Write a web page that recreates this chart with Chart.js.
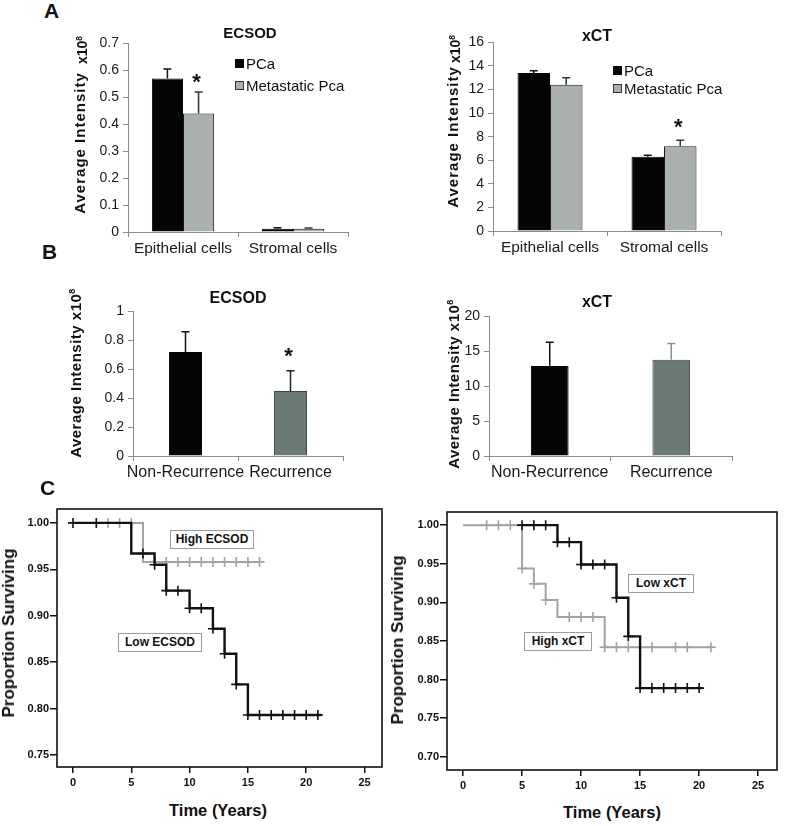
<!DOCTYPE html>
<html>
<head>
<meta charset="utf-8">
<script src="https://cdn.jsdelivr.net/npm/chart.js@4.4.0/dist/chart.umd.min.js"></script>
<style>
  body { margin: 0; background: #fff; }
  #fig { position: relative; width: 792px; height: 826px; overflow: hidden; background: #fff;
         font-family: 'Liberation Sans', Arial, sans-serif; color: #111; }
  canvas { position: absolute; }
  .t { position: absolute; white-space: nowrap; transform: translate(-50%, -50%); }
  .r { position: absolute; white-space: nowrap; transform: translate(-50%, -50%) rotate(-90deg); font-weight: bold; }
  .letter { position: absolute; font-weight: bold; font-size: 21px; }
  .ttl { font-weight: bold; font-size: 16px; }
  .leg { position: absolute; font-size: 15px; line-height: 15px; }
  .sq { display: inline-block; width: 9px; height: 9px; margin-right: 2px; vertical-align: 1px; box-sizing: border-box; }
  .tag { position: absolute; border: 1.5px solid #9c9c9c; background: #fff; font-weight: bold; font-size: 12px;
         text-align: center; box-sizing: border-box; }
  sup { font-size: 0.6em; }
</style>
</head>
<body>
<div id="fig">
  <canvas id="aEcsod"></canvas>
  <canvas id="aXct"></canvas>
  <canvas id="bEcsod"></canvas>
  <canvas id="bXct"></canvas>
  <canvas id="cEcsod"></canvas>
  <canvas id="cXct"></canvas>

  <div class="letter" style="left:44px;top:-1px">A</div>
  <div class="letter" style="left:42px;top:240px">B</div>
  <div class="letter" style="left:40px;top:476px">C</div>

  <div class="t ttl" style="left:250px;top:32px;font-size:15px">ECSOD</div>
  <div class="t ttl" style="left:597px;top:36px">xCT</div>
  <div class="t ttl" style="left:238px;top:298px">ECSOD</div>
  <div class="t ttl" style="left:597px;top:302px">xCT</div>

  <div class="r" style="left:79px;top:143px;font-size:15px;letter-spacing:1px">Average Intensity</div>
  <div class="r" style="left:82px;top:50px;font-size:14px">x10<sup>8</sup></div>
  <div class="r" style="left:452px;top:137px;font-size:15px;letter-spacing:1px">Average Intensity</div>
  <div class="r" style="left:455px;top:49px;font-size:14px">x10<sup>8</sup></div>
  <div class="r" style="left:75px;top:373px;font-size:15px;letter-spacing:0.5px">Average Intensity x10<sup>8</sup></div>
  <div class="r" style="left:453px;top:384px;font-size:15px;letter-spacing:0.5px">Average Intensity x10<sup>8</sup></div>

  <div class="leg" style="left:235px;top:56px"><span class="sq" style="background:#050505"></span>PCa</div>
  <div class="leg" style="left:235px;top:78px"><span class="sq" style="background:#a9b0ad;border:1px solid #333"></span>Metastatic Pca</div>
  <div class="leg" style="left:613px;top:63px"><span class="sq" style="background:#050505"></span>PCa</div>
  <div class="leg" style="left:613px;top:81px"><span class="sq" style="background:#a9b0ad;border:1px solid #333"></span>Metastatic Pca</div>

  <div class="r" style="left:9px;top:633px;font-size:17px">Proportion Surviving</div>
  <div class="t ttl" style="left:218px;top:810px;font-size:16.5px">Time (Years)</div>
  <div class="r" style="left:398px;top:640px;font-size:17px">Proportion Surviving</div>
  <div class="t ttl" style="left:612px;top:812px;font-size:16.5px">Time (Years)</div>

  <div class="tag" style="left:170px;top:530px;width:84px;height:19px;line-height:16px">High ECSOD</div>
  <div class="tag" style="left:118px;top:633px;width:84px;height:19px;line-height:16px">Low ECSOD</div>
  <div class="tag" style="left:628px;top:574px;width:66px;height:19px;line-height:16px">Low xCT</div>
  <div class="tag" style="left:524px;top:632px;width:68px;height:19px;line-height:16px">High xCT</div>
</div>

<script>
// ---- data ----
// A: cell types, PCa vs metastatic
const cellTypes = ['Epithelial cells', 'Stromal cells'];
const ecsodA_PCa = [0.57, 0.012];
const ecsodA_PCaErr = [0.035, 0.004];
const ecsodA_Met = [0.44, 0.012];
const ecsodA_MetErr = [0.08, 0.003];
const xctA_PCa = [13.4, 6.3];
const xctA_PCaErr = [0.2, 0.12];
const xctA_Met = [12.4, 7.2];
const xctA_MetErr = [0.6, 0.5];

// B: recurrence groups
const recurGroups = ['Non-Recurrence', 'Recurrence'];
const ecsodB = [0.72, 0.45];
const ecsodBErr = [0.14, 0.14];
const xctB = [12.9, 13.8];
const xctBErr = [3.4, 2.3];

// C: Kaplan-Meier steps (time in years, proportion surviving) and censor times
const lowEcsodT = [0, 5, 7, 8, 10, 12, 13, 14, 15, 21.3];
const lowEcsodS = [1, 0.967, 0.955, 0.927, 0.908, 0.886, 0.859, 0.826, 0.793, 0.793];
const lowEcsodCens = [0, 2, 6, 7, 8, 9, 10, 11, 12, 13, 14, 15, 16, 17, 18, 19, 20, 21];
const highEcsodT = [0, 6, 16];
const highEcsodS = [1, 0.958, 0.958];
const highEcsodCens = [3, 4, 5, 7, 8, 9, 10, 11, 12, 13, 14, 15, 16];

const lowXctT = [5, 8, 10, 13, 14, 15, 20.3];
const lowXctS = [1, 0.978, 0.949, 0.906, 0.856, 0.789, 0.789];
const lowXctCens = [5, 6, 7, 8, 9, 10, 11, 12, 13, 14, 15, 16, 17, 18, 19, 20];
const highXctT = [0, 5, 6, 7, 8, 12, 21.2];
const highXctS = [1, 0.944, 0.924, 0.903, 0.881, 0.842, 0.842];
const highXctCens = [2, 3, 4, 5, 6, 7, 9, 10, 11, 12, 13, 14, 16, 18, 19, 21];

// ---- helpers ----
const FONT = "'Liberation Sans', Arial, sans-serif";
Chart.defaults.font.family = FONT;

// put the canvas so the plot area lands on the given box
function place(id, area, pad) {
  const c = document.getElementById(id);
  c.width = area.r - area.l + pad.yw + pad.pr;
  c.height = area.b - area.t + pad.pt + pad.xh;
  c.style.left = (area.l - pad.yw) + 'px';
  c.style.top = (area.t - pad.pt) + 'px';
  return c;
}

// upper error bars + significance star
const errorBars = {
  id: 'errorBars',
  afterDatasetsDraw(chart) {
    const ctx = chart.ctx, y = chart.scales.y;
    chart.data.datasets.forEach((ds, i) => {
      if (!ds.errors) return;
      chart.getDatasetMeta(i).data.forEach((bar, j) => {
        const top = y.getPixelForValue(ds.data[j] + ds.errors[j]);
        const col = Array.isArray(ds.errColor) ? ds.errColor[j] : ds.errColor;
        ctx.save();
        ctx.strokeStyle = col;
        ctx.lineWidth = 1.5;
        ctx.beginPath();
        ctx.moveTo(bar.x, bar.y);
        ctx.lineTo(bar.x, top);
        ctx.moveTo(bar.x - 4, top);
        ctx.lineTo(bar.x + 4, top);
        ctx.stroke();
        if (ds.stars && ds.stars[j]) {
          ctx.fillStyle = '#111';
          ctx.font = 'bold 22px ' + FONT;
          ctx.textAlign = 'center';
          ctx.textBaseline = 'alphabetic';
          ctx.fillText('*', bar.x - 2, top - ds.starGap);
        }
        ctx.restore();
      });
    });
  }
};

// black box around the survival plots
const frame = {
  id: 'frame',
  afterDatasetsDraw(chart) {
    const a = chart.chartArea, ctx = chart.ctx;
    ctx.save();
    ctx.strokeStyle = '#111';
    ctx.lineWidth = 1.6;
    ctx.strokeRect(a.left, a.top, a.right - a.left, a.bottom - a.top);
    ctx.restore();
  }
};

function barChart(id, area, labels, datasets, yMax, yStep, labelSize) {
  const pad = { yw: 42, xh: 32, pt: 12, pr: 12 };
  const axisCol = '#8c8c8c';
  return new Chart(place(id, area, pad), {
    type: 'bar',
    data: { labels: labels, datasets: datasets },
    options: {
      responsive: false,
      animation: false,
      layout: { padding: { top: pad.pt, right: pad.pr, left: 0, bottom: 0 } },
      plugins: { legend: { display: false }, tooltip: { enabled: false } },
      scales: {
        x: {
          offset: true,
          grid: { offset: true, drawOnChartArea: false, tickLength: 5, color: axisCol },
          border: { color: axisCol },
          ticks: { color: '#1a1a1a', font: { size: labelSize }, padding: 2, maxRotation: 0, autoSkip: false },
          afterFit: s => { s.height = pad.xh; }
        },
        y: {
          min: 0, max: yMax,
          grid: { drawOnChartArea: false, tickLength: 5, color: axisCol },
          border: { color: axisCol },
          ticks: { stepSize: yStep, color: '#1a1a1a', font: { size: 14 }, padding: 4,
                   callback: v => String(Number(v.toFixed(3))) },
          afterFit: s => { s.width = pad.yw; }
        }
      }
    },
    plugins: [errorBars]
  });
}

function survAt(T, S, t) {
  let v = S[0];
  for (let i = 0; i < T.length; i++) if (T[i] <= t) v = S[i];
  return v;
}

function curve(T, S, color, width) {
  return {
    type: 'line', data: T.map((t, i) => ({ x: t, y: S[i] })),
    stepped: true, borderColor: color, borderWidth: width, pointRadius: 0, fill: false
  };
}

function censors(T, S, C, color) {
  return {
    type: 'scatter', data: C.map(t => ({ x: t, y: survAt(T, S, t) })),
    showLine: false, pointStyle: 'cross', pointRadius: 5,
    pointBorderColor: color, pointBorderWidth: 1.6
  };
}

function kmChart(id, area, datasets, xr, yr) {
  const pad = { yw: 50, xh: 26, pt: 10, pr: 10 };
  const tickFont = { size: 11, weight: 'bold' };
  return new Chart(place(id, area, pad), {
    type: 'scatter',
    data: { datasets: datasets },
    options: {
      responsive: false,
      animation: false,
      layout: { padding: { top: pad.pt, right: pad.pr, left: 0, bottom: 0 } },
      plugins: { legend: { display: false }, tooltip: { enabled: false } },
      scales: {
        x: {
          type: 'linear', min: xr[0], max: xr[1],
          grid: { drawOnChartArea: false, tickLength: 6, color: '#111', lineWidth: 1.5 },
          border: { display: false },
          ticks: { stepSize: 5, includeBounds: false, color: '#111', font: tickFont, padding: 3 },
          afterFit: s => { s.height = pad.xh; }
        },
        y: {
          min: yr[0], max: yr[1],
          grid: { drawOnChartArea: false, tickLength: 7, color: '#111', lineWidth: 1.5 },
          border: { display: false },
          ticks: { stepSize: 0.05, includeBounds: false, color: '#111', font: tickFont, padding: 1,
                   callback: v => v.toFixed(2) },
          afterFit: s => { s.width = pad.yw; }
        }
      }
    },
    plugins: [frame]
  });
}

// ---- A ----
barChart('aEcsod', { l: 128, t: 43, r: 348, b: 232 }, cellTypes, [
  { label: 'PCa', data: ecsodA_PCa, errors: ecsodA_PCaErr, errColor: '#111',
    backgroundColor: '#050505', borderColor: '#050505', borderWidth: 1,
    categoryPercentage: 0.566, barPercentage: 1 },
  { label: 'Metastatic Pca', data: ecsodA_Met, errors: ecsodA_MetErr, errColor: '#333',
    stars: [true, false], starGap: 3,
    backgroundColor: '#a9b0ad', borderColor: '#1a1a1a', borderWidth: 1,
    categoryPercentage: 0.566, barPercentage: 1 }
], 0.7, 0.1, 15.5);

barChart('aXct', { l: 493, t: 42, r: 721, b: 231 }, cellTypes, [
  { label: 'PCa', data: xctA_PCa, errors: xctA_PCaErr, errColor: '#111',
    backgroundColor: '#050505', borderColor: '#050505', borderWidth: 1,
    categoryPercentage: 0.57, barPercentage: 1 },
  { label: 'Metastatic Pca', data: xctA_Met, errors: xctA_MetErr, errColor: '#333',
    stars: [false, true], starGap: 6,
    backgroundColor: '#a9b0ad', borderColor: '#1a1a1a', borderWidth: 1,
    categoryPercentage: 0.57, barPercentage: 1 }
], 16, 2, 15.5);

// ---- B ----
barChart('bEcsod', { l: 133, t: 311, r: 343, b: 456 }, recurGroups, [
  { label: 'ECSOD', data: ecsodB, errors: ecsodBErr, errColor: ['#111', '#222'],
    stars: [false, true], starGap: 8,
    backgroundColor: ['#050505', '#6a7a76'], borderColor: ['#050505', '#3a4442'], borderWidth: 1,
    categoryPercentage: 0.315, barPercentage: 1 }
], 1, 0.2, 16);

barChart('bXct', { l: 489, t: 316, r: 732, b: 456 }, recurGroups, [
  { label: 'xCT', data: xctB, errors: xctBErr, errColor: ['#111', '#8a8f8d'],
    backgroundColor: ['#050505', '#6a7a76'], borderColor: ['#050505', '#3a4442'], borderWidth: 1,
    categoryPercentage: 0.31, barPercentage: 1 }
], 20, 5, 16);

// ---- C ----
const BLACK = '#111', GREY = '#a3a3a3';
kmChart('cEcsod', { l: 57, t: 509, r: 382, b: 767 }, [
  censors(lowEcsodT, lowEcsodS, lowEcsodCens, BLACK),
  curve(lowEcsodT, lowEcsodS, BLACK, 2.4),
  censors(highEcsodT, highEcsodS, highEcsodCens, GREY),
  curve(highEcsodT, highEcsodS, GREY, 2)
], [-1.37, 26.5], [0.737, 1.015]);

kmChart('cXct', { l: 447, t: 512, r: 777, b: 770 }, [
  censors(lowXctT, lowXctS, lowXctCens, BLACK),
  curve(lowXctT, lowXctS, BLACK, 2.4),
  censors(highXctT, highXctS, highXctCens, GREY),
  curve(highXctT, highXctS, GREY, 2)
], [-1.36, 26.6], [0.683, 1.017]);
</script>
</body>
</html>
